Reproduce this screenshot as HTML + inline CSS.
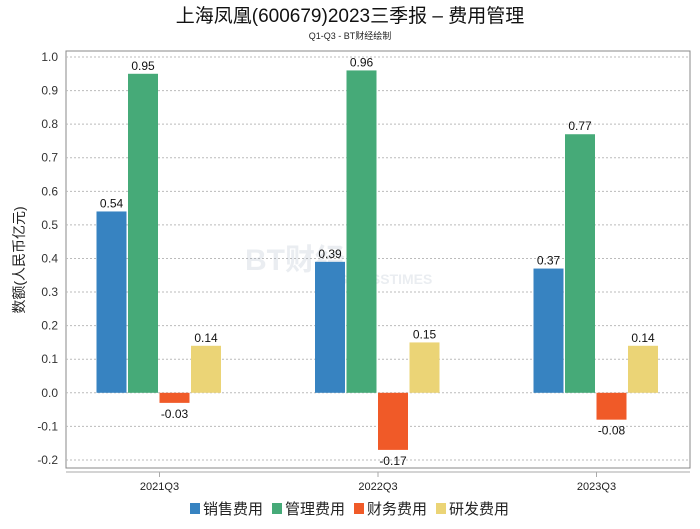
<!DOCTYPE html>
<html><head><meta charset="utf-8"><style>
body{margin:0;background:#fff;}
svg text{font-family:"Liberation Sans","Noto Sans CJK SC",sans-serif;}
</style></head><body>
<svg id="chart" width="700" height="524" xmlns="http://www.w3.org/2000/svg">
<rect width="700" height="524" fill="#fff"/>
<text x="350" y="22" font-size="19" text-anchor="middle" fill="#111">上海凤凰(600679)2023三季报 – 费用管理</text>
<text x="350" y="39" font-size="9" text-anchor="middle" fill="#222">Q1-Q3 - BT财经绘制</text>
<rect x="66" y="51" width="624" height="417" fill="none" stroke="#888"/>
<line x1="66" y1="472" x2="690" y2="472" stroke="#aaa"/>
<text transform="translate(24,260) rotate(-90)" font-size="14" text-anchor="middle" fill="#222">数额(人民币亿元)</text>
<g id="grid"></g><g id="wm" opacity="0.2">
<text x="245" y="270" font-size="30" font-weight="bold" fill="#9ab">BT财经</text>
<text x="318" y="284" font-size="14" font-weight="bold" fill="#9ab">BUSINESSTIMES</text></g>
<g id="bars"></g><g id="xl"></g>
<g id="legend"></g>
</svg>
<script>
const categories=["2021Q3","2022Q3","2023Q3"];
const seriesNames=["销售费用","管理费用","财务费用","研发费用"];
const colors=["#3783c1","#46aa78","#f05a28","#ebd476"];
const sales=[0.54,0.39,0.37];
const admin=[0.95,0.96,0.77];
const finance=[-0.03,-0.17,-0.08];
const rnd=[0.14,0.15,0.14];
const yTicks=[1.0,0.9,0.8,0.7,0.6,0.5,0.4,0.3,0.2,0.1,0.0,-0.1,-0.2];
const series=[sales,admin,finance,rnd];
const NS="http://www.w3.org/2000/svg";
function y(v){return 392.8-v*335.8;}
function xc(i){return 159.5+i*218.5;}
function mk(t,a,p){const e=document.createElementNS(NS,t);for(const k in a)e.setAttribute(k,a[k]);p.appendChild(e);return e;}
const g=document.getElementById('grid');
yTicks.forEach(t=>{
 const l=mk('line',{x1:66,x2:690,y1:y(t),y2:y(t),stroke:'#bbb','stroke-dasharray':'2,2'},g);
 
 
 const tx=mk('text',{x:58,y:y(t)+4,'font-size':12,'text-anchor':'end',fill:'#333'},g);
 tx.textContent=t.toFixed(1);
 
 
});
const b=document.getElementById('bars');
categories.forEach((c,i)=>{
 series.forEach((s,j)=>{
  const v=s[i],x0=xc(i)-63+j*31.5;
  const r=mk('rect',{x:x0,y:Math.min(y(v),y(0)),width:30,height:Math.abs(y(v)-y(0)),fill:colors[j]},b);
  
  
  const t=mk('text',{x:x0+15,y:v>=0?y(v)-4:y(v)+15,'font-size':12,'text-anchor':'middle',fill:'#111'},b);
  t.textContent=v.toFixed(2);
  
  
 });
 const xl=document.getElementById('xl');
 const tk=mk('line',{x1:xc(i),x2:xc(i),y1:472,y2:477,stroke:'#aaa'},xl);
 
 
 const t=mk('text',{x:xc(i),y:490,'font-size':11,'text-anchor':'middle',fill:'#222'},xl);
 t.textContent=c;
 
 
});
const lg=document.getElementById('legend');
seriesNames.forEach((n,j)=>{
 const x0=190+j*82;
 const r=mk('rect',{x:x0,y:503,width:10,height:11,fill:colors[j]},lg);
 
 
 const t=mk('text',{x:x0+13,y:514,'font-size':15,fill:'#222'},lg);
 t.textContent=n;
 
 
});
</script>
</body></html>
